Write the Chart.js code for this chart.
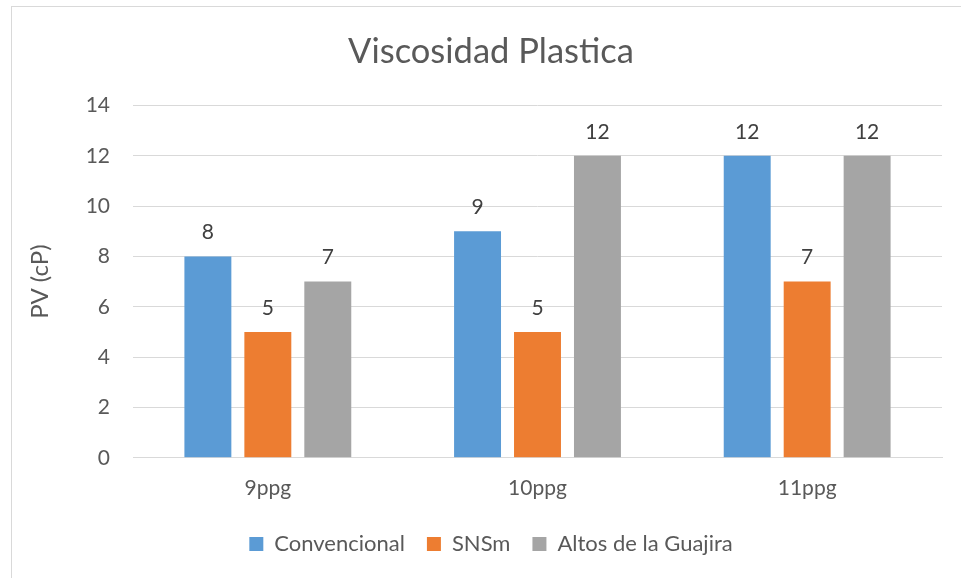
<!DOCTYPE html>
<html>
<head>
<meta charset="utf-8">
<script src="https://cdn.jsdelivr.net/npm/chart.js@4.4.1/dist/chart.umd.min.js"></script>
<style>
  html, body { margin: 0; padding: 0; background: #fff; overflow: hidden; }
  .chart-box {
    position: absolute; left: 11px; top: 6px;
    width: 960px; height: 580px;
    border: 1px solid #d9d9d9; box-sizing: border-box;
  }
  .chart-box canvas { display: block; }
</style>
</head>
<body>
<div class="chart-box"><canvas id="pv" width="958" height="578"></canvas></div>
<script>
  // Plastic viscosity per mud weight
  const categories = ['9ppg', '10ppg', '11ppg'];
  const convencional = [8, 9, 12];
  const snsm = [5, 5, 7];
  const altosGuajira = [7, 12, 12];
  const seriesNames = ['Convencional', 'SNSm', 'Altos de la Guajira'];
  const seriesColors = ['#5b9bd5', '#ed7d31', '#a5a5a5'];

  const textColor = '#595959';
  const gridColor = '#d9d9d9';
  const fontFamily = 'Lato, "Open Sans", sans-serif';

  // value labels above each bar
  const barLabels = {
    id: 'barLabels',
    afterDatasetsDraw(chart) {
      const ctx = chart.ctx;
      ctx.save();
      ctx.fillStyle = '#404040';
      ctx.font = '21px ' + fontFamily;
      ctx.textAlign = 'center';
      ctx.textBaseline = 'middle';
      chart.data.datasets.forEach((ds, i) => {
        chart.getDatasetMeta(i).data.forEach((bar, j) => {
          ctx.fillText(String(ds.data[j]), bar.x, bar.y - 24);
        });
      });
      ctx.restore();
    }
  };

  new Chart(document.getElementById('pv'), {
    type: 'bar',
    data: {
      labels: categories,
      datasets: [convencional, snsm, altosGuajira].map((vals, i) => ({
        label: seriesNames[i],
        data: vals,
        backgroundColor: seriesColors[i],
        categoryPercentage: 0.667,
        barPercentage: 0.783
      }))
    },
    options: {
      responsive: false,
      animation: false,
      devicePixelRatio: 1,
      layout: { padding: { left: 28, right: 28, top: 0, bottom: 20 } },
      plugins: {
        title: {
          display: true,
          text: 'Viscosidad Plastica',
          color: textColor,
          font: { family: fontFamily, size: 34.5, weight: 'normal' },
          padding: { top: 24, bottom: 33 }
        },
        legend: {
          position: 'bottom',
          labels: {
            color: textColor,
            font: { family: fontFamily, size: 22 },
            boxWidth: 14,
            boxHeight: 14,
            padding: 22
          }
        },
        tooltip: { enabled: false }
      },
      scales: {
        x: {
          grid: { display: false },
          border: { color: gridColor, width: 1 },
          ticks: { color: textColor, font: { family: fontFamily, size: 21 }, padding: 10 }
        },
        y: {
          min: 0,
          max: 14,
          afterFit(scale) { scale.width = 93; },
          ticks: { stepSize: 2, color: textColor, font: { family: fontFamily, size: 21 }, padding: 23 },
          grid: { color: gridColor, drawTicks: false },
          border: { display: false },
          title: {
            display: true,
            text: 'PV (cP)',
            color: textColor,
            font: { family: fontFamily, size: 24 },
            padding: { top: -14, bottom: 0 }
          }
        }
      }
    },
    plugins: [barLabels]
  });
</script>
</body>
</html>
